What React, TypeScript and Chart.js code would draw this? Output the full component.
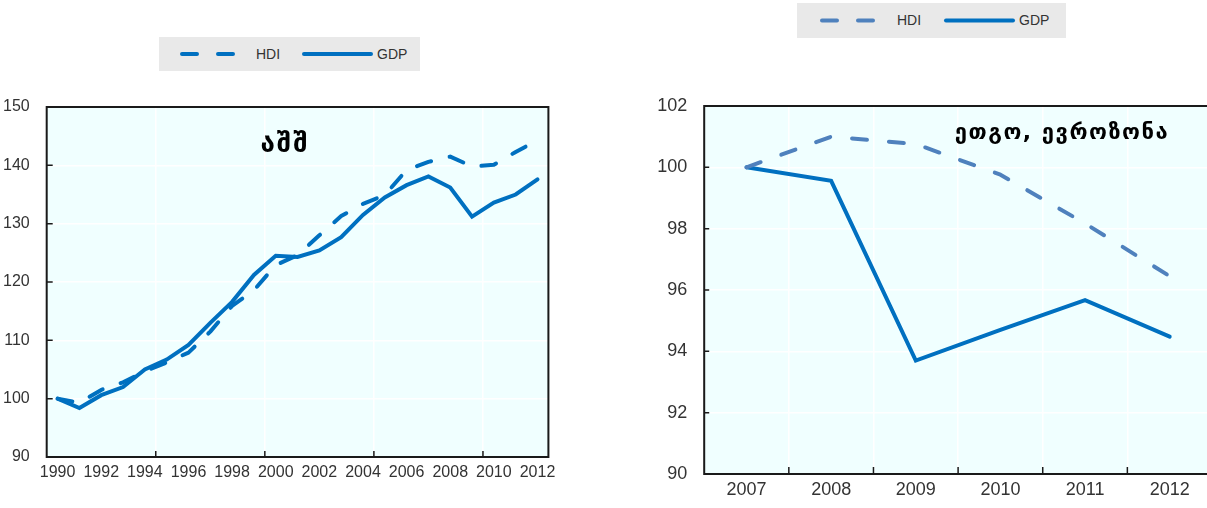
import React, { useEffect, useRef } from "react";
import { Chart, registerables } from "chart.js";

Chart.register(...registerables);

// ---------- DATA ----------
const usYears = [
  "1990", "1991", "1992", "1993", "1994", "1995", "1996", "1997", "1998", "1999", "2000",
  "2001", "2002", "2003", "2004", "2005", "2006", "2007", "2008", "2009", "2010", "2011", "2012",
];
const usHDI = [
  100, 99.3, 101.5, 102.8, 104.7, 106.2, 107.9, 111.5, 115.9, 118.6, 122.9,
  124.6, 128.0, 131.3, 133.4, 134.9, 139.2, 140.6, 141.5, 139.8, 140.1, 142.3, 144.3,
];
const usGDP = [
  100, 98.4, 100.6, 102.0, 105.0, 106.7, 109.2, 113.0, 116.6, 121.2, 124.5,
  124.3, 125.4, 127.7, 131.5, 134.5, 136.6, 138.1, 136.2, 131.2, 133.6, 135.0, 137.6,
];
const usYMin = 90;
const usYMax = 150;
const usYStep = 10;

const ezYears = ["2007", "2008", "2009", "2010", "2011", "2012"];
const ezHDI = [100, 101.0, 100.76, 99.76, 98.17, 96.45];
const ezGDP = [100, 99.56, 93.7, 94.7, 95.67, 94.48];
const ezYMin = 90;
const ezYMax = 102;
const ezYStep = 2;

const seriesNames = ["HDI", "GDP"];
const usTitle = "აშშ";
const ezTitle = "ეთგო, ევროზონა";

// ---------- STYLE ----------
const TICK_FONT = "'Liberation Sans Narrow', 'Arial Narrow', 'Liberation Sans', Arial, sans-serif";
const GEO_FONT = "'DejaVu Sans', 'Noto Sans', sans-serif";
const BLUE = "#0070C0";
const STEEL = "#4F81BD";
const PLOT_BG = "#F0FFFF";
const TEXT = "#333333";

type FrameCfg = {
  sides: { top: boolean; right: boolean; bottom: boolean; left: boolean };
  yTicks: number[];
  yTickLen: number;
  xBoundaries: number[];
  xTickLen: number;
};

function framePlugin(cfg: FrameCfg) {
  return {
    id: "frame",
    beforeDraw(chart: any) {
      const { ctx, chartArea: a } = chart;
      ctx.save();
      ctx.fillStyle = PLOT_BG;
      ctx.fillRect(a.left, a.top, a.right - a.left, a.bottom - a.top);
      ctx.restore();
    },
    afterDraw(chart: any) {
      const { ctx, chartArea: a, scales } = chart;
      ctx.save();
      ctx.strokeStyle = "#1a1a1a";
      ctx.lineWidth = 2;
      ctx.beginPath();
      if (cfg.sides.top) { ctx.moveTo(a.left - 1, a.top); ctx.lineTo(a.right + 1, a.top); }
      if (cfg.sides.right) { ctx.moveTo(a.right, a.top); ctx.lineTo(a.right, a.bottom); }
      if (cfg.sides.bottom) { ctx.moveTo(a.left - 1, a.bottom); ctx.lineTo(a.right + 1, a.bottom); }
      if (cfg.sides.left) { ctx.moveTo(a.left, a.top); ctx.lineTo(a.left, a.bottom); }
      ctx.stroke();
      ctx.lineWidth = 1.5;
      ctx.beginPath();
      for (const v of cfg.yTicks) {
        const y = scales.y.getPixelForValue(v);
        ctx.moveTo(a.left, y);
        ctx.lineTo(a.left + cfg.yTickLen, y);
      }
      for (const b of cfg.xBoundaries) {
        const x = (scales.x.getPixelForValue(b - 1) + scales.x.getPixelForValue(b)) / 2;
        ctx.moveTo(x, a.bottom);
        ctx.lineTo(x, a.bottom - cfg.xTickLen);
      }
      ctx.stroke();
      ctx.restore();
    },
  };
}

type PanelProps = {
  labels: string[];
  hdi: number[];
  gdp: number[];
  hdiColor: string;
  dash: number[];
  yMin: number;
  yMax: number;
  yStep: number;
  width: number;
  height: number;
  padding: { left: number; right: number; top: number; bottom: number };
  yWidth: number;
  xHeight: number;
  fontSize: number;
  yPad: number;
  xPad: number;
  labelEvery: number;
  gridBoundaries: number[];
  frame: FrameCfg;
};

function Panel(p: PanelProps) {
  const ref = useRef<HTMLCanvasElement | null>(null);
  useEffect(() => {
    if (!ref.current) return;
    const chart = new Chart(ref.current, {
      type: "line",
      data: {
        labels: p.labels,
        datasets: [
          {
            label: seriesNames[0],
            data: p.hdi,
            borderColor: p.hdiColor,
            borderWidth: 4,
            borderDash: p.dash,
            borderCapStyle: "round",
            borderJoinStyle: "round",
            pointRadius: 0,
            tension: 0,
            fill: false,
          },
          {
            label: seriesNames[1],
            data: p.gdp,
            borderColor: BLUE,
            borderWidth: 4,
            borderCapStyle: "round",
            borderJoinStyle: "miter",
            pointRadius: 0,
            tension: 0,
            fill: false,
          },
        ],
      },
      options: {
        responsive: false,
        maintainAspectRatio: false,
        animation: false,
        layout: { padding: p.padding },
        plugins: {
          legend: { display: false },
          tooltip: { enabled: false },
          title: { display: false },
        },
        scales: {
          x: {
            type: "category",
            offset: true,
            border: { display: false },
            grid: {
              display: true,
              offset: true,
              drawTicks: false,
              lineWidth: 1.5,
              color: (ctx: any) => (p.gridBoundaries.includes(ctx.index) ? "#FFFFFF" : "rgba(0,0,0,0)"),
            },
            ticks: {
              autoSkip: false,
              maxRotation: 0,
              minRotation: 0,
              padding: p.xPad,
              color: TEXT,
              font: { family: TICK_FONT, size: p.fontSize },
              callback: (_v: any, i: number) => (i % p.labelEvery === 0 ? p.labels[i] : ""),
            },
            afterFit: (s: any) => {
              s.height = p.xHeight;
            },
          },
          y: {
            min: p.yMin,
            max: p.yMax,
            border: { display: false },
            grid: { color: "#FFFFFF", lineWidth: 1.5, drawTicks: false },
            ticks: {
              stepSize: p.yStep,
              padding: p.yPad,
              color: TEXT,
              font: { family: TICK_FONT, size: p.fontSize },
            },
            afterFit: (s: any) => {
              s.width = p.yWidth;
            },
          },
        },
      },
      plugins: [framePlugin(p.frame)],
    } as any);
    return () => chart.destroy();
  }, []);
  return <canvas ref={ref} width={p.width} height={p.height} style={{ display: "block" }} />;
}

function Legend(props: { left: number; top: number; hdiColor: string; w: number; h: number; dashX: [number, number]; hdiX: number; solidX: [number, number]; gdpX: number }) {
  const { left, top, w, h } = props;
  const cy = h / 2;
  const textStyle = (x: number): React.CSSProperties => ({
    position: "absolute",
    left: x,
    top: 0,
    height: h,
    lineHeight: h + "px",
    fontFamily: TICK_FONT,
    fontSize: 14,
    color: TEXT,
    whiteSpace: "nowrap",
  });
  return (
    <div style={{ position: "absolute", left, top, width: w, height: h, background: "#E9E9E9" }}>
      <svg width={w} height={h} style={{ position: "absolute", left: 0, top: 0 }}>
        <line x1={props.dashX[0]} y1={cy} x2={props.dashX[1]} y2={cy} stroke={props.hdiColor} strokeWidth={4} strokeLinecap="round" strokeDasharray="15 21" />
        <line x1={props.solidX[0]} y1={cy} x2={props.solidX[1]} y2={cy} stroke={BLUE} strokeWidth={4} strokeLinecap="round" />
      </svg>
      <span style={textStyle(props.hdiX)}>{seriesNames[0]}</span>
      <span style={textStyle(props.gdpX)}>{seriesNames[1]}</span>
    </div>
  );
}

export default function App() {
  return (
    <div style={{ position: "absolute", left: 0, top: 0, width: 1207, height: 508, overflow: "hidden", background: "#FFFFFF" }}>
      <div style={{ position: "absolute", left: 0, top: 0 }}>
        <Panel
          labels={usYears}
          hdi={usHDI}
          gdp={usGDP}
          hdiColor={BLUE}
          dash={[15, 19]}
          yMin={usYMin}
          yMax={usYMax}
          yStep={usYStep}
          width={600}
          height={508}
          padding={{ left: 0, right: 51.6, top: 107, bottom: 0 }}
          yWidth={46.7}
          xHeight={51}
          fontSize={16}
          yPad={17}
          xPad={6}
          labelEvery={2}
          gridBoundaries={[5, 10, 15, 20]}
          frame={{
            sides: { top: true, right: true, bottom: true, left: true },
            yTicks: [100, 110, 120, 130, 140],
            yTickLen: 6,
            xBoundaries: [5, 10, 15, 20],
            xTickLen: 6,
          }}
        />
      </div>
      <div style={{ position: "absolute", left: 600, top: 0 }}>
        <Panel
          labels={ezYears}
          hdi={ezHDI}
          gdp={ezGDP}
          hdiColor={STEEL}
          dash={[15, 22]}
          yMin={ezYMin}
          yMax={ezYMax}
          yStep={ezYStep}
          width={616}
          height={508}
          padding={{ left: 0, right: 4, top: 106, bottom: 0 }}
          yWidth={104.2}
          xHeight={34}
          fontSize={18}
          yPad={17}
          xPad={5}
          labelEvery={1}
          gridBoundaries={[1, 2, 3, 4, 5]}
          frame={{
            sides: { top: true, right: false, bottom: true, left: true },
            yTicks: [92, 94, 96, 98, 100],
            yTickLen: 5,
            xBoundaries: [1, 2, 3, 4, 5],
            xTickLen: 7,
          }}
        />
      </div>
      <Legend left={159} top={37} w={261} h={34} hdiColor={BLUE} dashX={[23, 74]} hdiX={97} solidX={[145, 212]} gdpX={218} />
      <Legend left={797} top={3} w={269} h={35} hdiColor={STEEL} dashX={[25, 79]} hdiX={100} solidX={[149, 216]} gdpX={222} />
      <div style={{ position: "absolute", left: 135, width: 300, top: 127, height: 32, lineHeight: "32px", textAlign: "center", fontFamily: GEO_FONT, fontWeight: "bold", fontSize: 26, letterSpacing: 2, color: "#000", whiteSpace: "nowrap" }}>{usTitle}</div>
      <div style={{ position: "absolute", left: 912, width: 300, top: 117, height: 30, lineHeight: "30px", textAlign: "center", fontFamily: GEO_FONT, fontWeight: "bold", fontSize: 22, letterSpacing: 1.5, color: "#000", whiteSpace: "nowrap" }}>{ezTitle}</div>
    </div>
  );
}
